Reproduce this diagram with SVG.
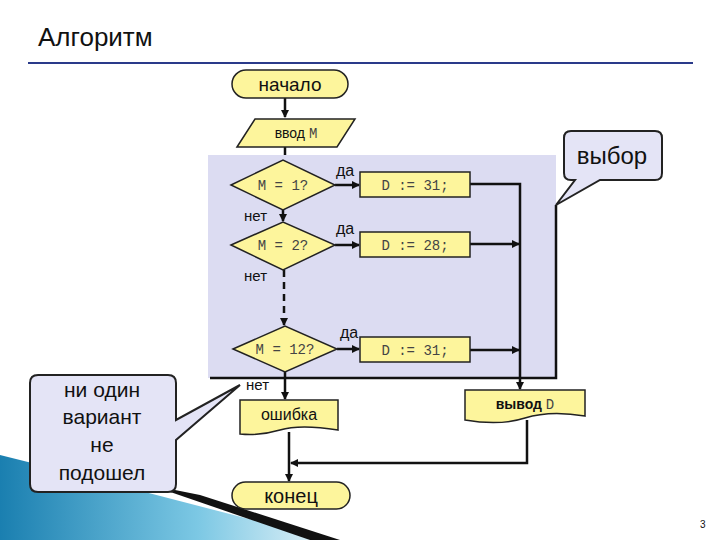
<svg xmlns="http://www.w3.org/2000/svg" width="720" height="540" viewBox="0 0 720 540">
<defs>
<marker id="ar" markerWidth="8" markerHeight="8" refX="7" refY="4" orient="auto" markerUnits="userSpaceOnUse"><path d="M0,0 L8,4 L0,8 z" fill="#111"/></marker>
<linearGradient id="bg" x1="0" y1="0" x2="1" y2="0"><stop offset="0" stop-color="#1a7fb0"/><stop offset="0.6" stop-color="#7cc8e4"/><stop offset="1" stop-color="#e6f3f8"/></linearGradient>
<style>
.s{font-family:"Liberation Sans","DejaVu Sans",sans-serif;fill:#111}
.m{font-family:"Liberation Mono",monospace;fill:#444;font-size:14px}
.y{fill:#fdf59c;stroke:#222;stroke-width:1.5}
.c{stroke:#111;stroke-width:2.5;fill:none}
.b{fill:#e4e4f6;stroke:#222;stroke-width:2}
</style>
</defs>
<rect width="720" height="540" fill="#fff"/>
<polygon points="0,455 60,470 330,540 0,540" fill="url(#bg)"/>
<polygon points="150,485 200,495 340,540 310,540" fill="#111"/>
<text x="38" y="46" class="s" font-size="26">Алгоритм</text>
<line x1="28" y1="63" x2="693" y2="63" stroke="#2a3a8a" stroke-width="2"/>
<rect x="208" y="155" width="348" height="223" fill="#dcdcf2"/>
<path d="M556,205 V378 H210" stroke="#111" stroke-width="2.5" fill="none"/>
<g id="connectors">
<line x1="285" y1="98" x2="285" y2="117" class="c" marker-end="url(#ar)"/>
<line x1="285" y1="147" x2="285" y2="155" class="c"/>
<line x1="283" y1="210" x2="283" y2="221" class="c" marker-end="url(#ar)"/>
<line x1="284" y1="270" x2="284" y2="325" class="c" stroke-dasharray="7,5" marker-end="url(#ar)"/>
<line x1="285" y1="372" x2="285" y2="399" class="c" marker-end="url(#ar)"/>
<line x1="335" y1="185" x2="359" y2="185" class="c" marker-end="url(#ar)"/>
<line x1="335" y1="245" x2="359" y2="245" class="c" marker-end="url(#ar)"/>
<line x1="337" y1="349" x2="359" y2="349" class="c" marker-end="url(#ar)"/>
<path d="M470,184 H520 V389" class="c" marker-end="url(#ar)"/>
<line x1="470" y1="244" x2="519" y2="244" class="c" marker-end="url(#ar)"/>
<line x1="470" y1="350" x2="519" y2="350" class="c" marker-end="url(#ar)"/>
<path d="M527,420 V463 H291" class="c" marker-end="url(#ar)"/>
<line x1="289" y1="432" x2="289" y2="481" class="c" marker-end="url(#ar)"/>
<text x="336" y="176" class="s" font-size="16">да</text>
<text x="336" y="234" class="s" font-size="16">да</text>
<text x="340" y="338" class="s" font-size="16">да</text>
<text x="244" y="221" class="s" font-size="15">нет</text>
<text x="244" y="281" class="s" font-size="15">нет</text>
<text x="246" y="390" class="s" font-size="15">нет</text>
</g>
<g id="start"><rect x="232" y="70" width="116" height="28" rx="14" class="y"/><text x="290" y="91" class="s" font-size="19" text-anchor="middle">начало</text></g>
<g id="input"><polygon points="237,147 255,119 355,119 337,147" class="y"/><text x="296" y="138" font-size="14" text-anchor="middle"><tspan class="s">ввод </tspan><tspan class="m">M</tspan></text></g>
<g id="d1"><polygon points="231,185 283,160 335,185 283,210" class="y"/><text x="283" y="190" class="m" text-anchor="middle">M = 1?</text></g>
<g id="d2"><polygon points="231,245 283,222 335,245 283,270" class="y"/><text x="283" y="250" class="m" text-anchor="middle">M = 2?</text></g>
<g id="d12"><polygon points="233,349 285,326 337,349 285,372" class="y"/><text x="285" y="354" class="m" text-anchor="middle">M = 12?</text></g>
<g id="a1"><rect x="360" y="172" width="110" height="25" class="y"/><text x="415" y="190" class="m" text-anchor="middle">D := 31;</text></g>
<g id="a2"><rect x="360" y="232" width="110" height="25" class="y"/><text x="415" y="250" class="m" text-anchor="middle">D := 28;</text></g>
<g id="a3"><rect x="360" y="337" width="110" height="25" class="y"/><text x="415" y="355" class="m" text-anchor="middle">D := 31;</text></g>
<g id="err"><path d="M240,400 H338 V430 Q300,424 280,430 T240,434 Z" class="y"/><text x="289" y="420" class="s" font-size="16" text-anchor="middle">ошибка</text></g>
<g id="out"><path d="M465,390 H585 V416 Q550,410 525,418 T465,420 Z" class="y"/><text x="525" y="409" font-size="14" text-anchor="middle"><tspan class="s" font-weight="bold">вывод </tspan><tspan class="m">D</tspan></text></g>
<g id="end"><rect x="232" y="482" width="118" height="27" rx="13.5" class="y"/><text x="291" y="503" class="s" font-size="20" text-anchor="middle">конец</text></g>
<g id="callout1"><path d="M571,131 H655 Q662,131 662,138 V173 Q662,180 655,180 H600 L556,205 L575,180 H571 Q564,180 564,173 V138 Q564,131 571,131 Z" class="b"/><text x="612" y="164" class="s" font-size="24" text-anchor="middle">выбор</text></g>
<g id="callout2"><path d="M38,375 H168 Q176,375 176,383 V420 L240,385 L176,440 V484 Q176,492 168,492 H38 Q30,492 30,484 V383 Q30,375 38,375 Z" class="b"/>
<g class="s" font-size="21" text-anchor="middle"><text x="102" y="397">ни один</text><text x="102" y="424">вариант</text><text x="102" y="452">не</text><text x="102" y="480">подошел</text></g></g>
<text x="700" y="528" class="s" font-size="10">3</text>
</svg>
